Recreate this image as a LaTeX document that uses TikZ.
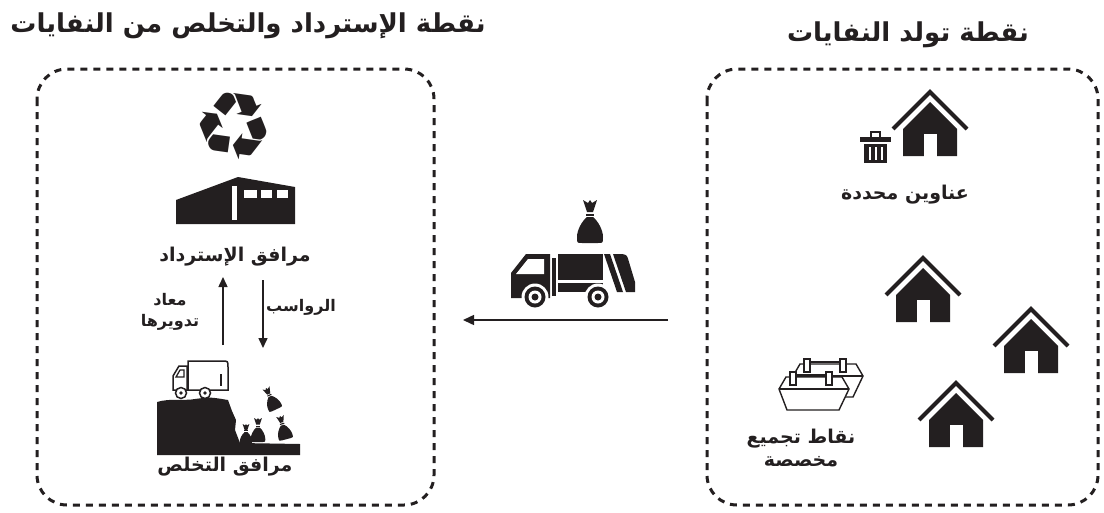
\documentclass[tikz,border=0pt]{standalone}
\usepackage{fontspec}
\usetikzlibrary{arrows.meta, positioning}
\newfontfamily\arabicfont[Script=Arabic]{DejaVu Sans}
\newfontfamily\symfont{DejaVu Sans}
\TeXXeTstate=1
\definecolor{ink}{HTML}{231F20}

\tikzset{
  house/.pic={
    \fill[ink] (-27,65) -- (-27,38) -- (0,11) -- (27,38) -- (27,65) -- cycle;
    \fill[white] (-6.5,43) rectangle (6.5,65.5);
    \draw[ink, line width=4] (-37,38) -- (0,1) -- (37,38);
  },
  bag/.pic={
    \fill[ink] (-7,0) -- (-2,3) -- (0,0) -- (2,3) -- (7,0) -- (3,12) -- (-3,12) -- cycle;
    \fill[ink] (-4,13.5) rectangle (4,15.5);
    \fill[ink] (-3,17) -- (3,17) .. controls (8,21) and (13,30) .. (13,37)
      .. controls (13,43) .. (8,43) -- (-8,43) .. controls (-13,43) .. (-13,37)
      .. controls (-13,30) and (-8,21) .. (-3,17);
  },
  skip/.pic={
    \filldraw[fill=white, draw=ink, line width=1.4] (0,12) -- (7,0) -- (63,0) -- (70,12)
      -- (60,33) -- (8,33) -- cycle;
    \draw[ink, line width=1.4] (0,12) -- (70,12);
    \filldraw[fill=white, draw=ink, line width=1.4] (11,-5) rectangle (17,8);
    \filldraw[fill=white, draw=ink, line width=1.4] (47,-5) rectangle (53,8);
    \draw[ink, line width=1.4] (17,-2) -- (47,-2);
  },
  heading/.style={text=ink, font=\arabicfont\bfseries\fontsize{26}{30}\selectfont},
  caption/.style={text=ink, font=\arabicfont\bfseries\fontsize{19}{23}\selectfont, align=center},
  zone/.style={draw=ink, line width=3, dash pattern=on 7pt off 6pt, rounded corners=30},
  flow/.style={draw=ink, line width=1.5, -{Triangle[length=11pt,width=10pt]}}
}

\begin{document}
\begin{tikzpicture}[x=1pt, y=-1pt]
  \useasboundingbox (0,0) rectangle (1104,512);

  % the two zones
  \draw[zone] (37,69) rectangle (434,505);
  \draw[zone] (707,69) rectangle (1098,505);
  \node[heading] (rectitle) at (248,26) {\beginR نقطة الإسترداد والتخلص من النفايات\endR};
  \node[heading] (gentitle) at (908,35) {\beginR نقطة تولد النفايات\endR};

  % waste generation side
  \pic at (930,91) {house};
  \pic at (923,257) {house};
  \pic at (1031,308) {house};
  \pic at (956,382) {house};
  % bin beside the first house
  \draw[ink, line width=1.3] (871,137) -- (871,132) -- (880,132) -- (880,137);
  \fill[ink] (860,137) rectangle (891,142);
  \fill[ink] (864,144) rectangle (887,163);
  \foreach \bx in {869.5,875.5,881.5}
    \fill[white] (\bx-1,147) rectangle (\bx+1,160);
  \node[caption] (addresses) at (905,195) {\beginR عناوين محددة\endR};

  \pic at (793,364) {skip};
  \pic at (779,377) {skip};
  \node[caption] (points) at (801,448) {\beginR نقاط تجميع\endR\\\beginR مخصصة\endR};

  % collection truck
  \pic at (590,200) {bag};
  \fill[ink] (511,298) -- (511,273) -- (526,254) -- (550,254) -- (550,298) -- cycle;
  \fill[white] (516,274) -- (528,259) -- (544,259) -- (544,274) -- cycle;
  \fill[ink] (552,258) rectangle (556,296);
  \fill[ink] (558,254) rectangle (603,292);
  \fill[white] (558,280) rectangle (603,283);
  \fill[ink] (604,254) -- (610,254) -- (623,292) -- (617,292) -- cycle;
  \fill[ink] (613,254) -- (622,254) .. controls (627,255) .. (629,262) -- (635,282)
    -- (635,292) -- (626,292) -- cycle;
  \foreach \wx in {535,598} {
    \fill[white] (\wx,297) circle (13.5);
    \fill[ink] (\wx,297) circle (10.5);
    \fill[white] (\wx,297) circle (6.5);
    \fill[ink] (\wx,297) circle (3.5);
  }
  \coordinate (haulfrom) at (668,320);
  \coordinate (haulto) at (463,320);
  \draw[flow] (haulfrom) -- (haulto);

  % recovery facility
  \node[text=ink, font=\symfont\fontsize{92}{92}\selectfont, rotate=-8] (recycle) at (234,126) {♻};
  \fill[ink] (176,224) -- (176,200) -- (238,177) -- (295,187) -- (295,224) -- cycle;
  \fill[white] (232,186) rectangle (237,220);
  \fill[white] (244,190) rectangle (257,198);
  \fill[white] (261,190) rectangle (272,198);
  \fill[white] (277,190) rectangle (288,198);
  \node[caption] (recovery) at (235,257) {\beginR مرافق الإسترداد\endR};

  \coordinate (upfrom) at (223,345);
  \coordinate (upto) at (223,277);
  \coordinate (downfrom) at (263,280);
  \coordinate (downto) at (263,348);
  \draw[flow, -{Triangle[length=10pt,width=9pt]}] (upfrom) -- (upto);
  \draw[flow, -{Triangle[length=10pt,width=9pt]}] (downfrom) -- (downto);
  \node[caption, font=\arabicfont\bfseries\fontsize{16}{21}\selectfont] (recycled) at (170,312)
    {\beginR معاد\endR\\\beginR تدويرها\endR};
  \node[caption, font=\arabicfont\bfseries\fontsize{16}{21}\selectfont] (residue) at (301,307)
    {\beginR الرواسب\endR};

  % landfill
  \fill[ink] (157,455) -- (157,402) .. controls (170,398) and (185,401) .. (195,399)
    .. controls (210,397) .. (228,400) -- (232,411) -- (236,420) -- (235,430)
    -- (240,443) -- (300,444) -- (300,455) -- cycle;
  \pic[rotate=25, scale=0.55] at (266,388) {bag};
  \pic[scale=0.48] at (246,424) {bag};
  \pic[scale=0.56] at (258,418) {bag};
  \pic[rotate=15, scale=0.56] at (280,416) {bag};
  \filldraw[fill=white, draw=ink, line width=1.5] (188,361) -- (222,361)
    .. controls (228,361) .. (228,367) -- (228,390) -- (188,390) -- cycle;
  \filldraw[fill=white, draw=ink, line width=1.5] (187,366) -- (179,366) -- (173,376)
    -- (173,390) -- (187,390) -- cycle;
  \draw[ink, line width=1.3] (176,377) -- (180,370) -- (184,370) -- (184,377) -- cycle;
  \draw[ink, line width=1.3] (221,374) -- (221,386);
  \foreach \wx in {181,205} {
    \filldraw[fill=white, draw=ink, line width=1.5] (\wx,393) circle (5.5);
    \fill[ink] (\wx,393) circle (1.8);
  }
  \node[caption] (disposal) at (225,467) {\beginR مرافق التخلص\endR};
\end{tikzpicture}
\end{document}
